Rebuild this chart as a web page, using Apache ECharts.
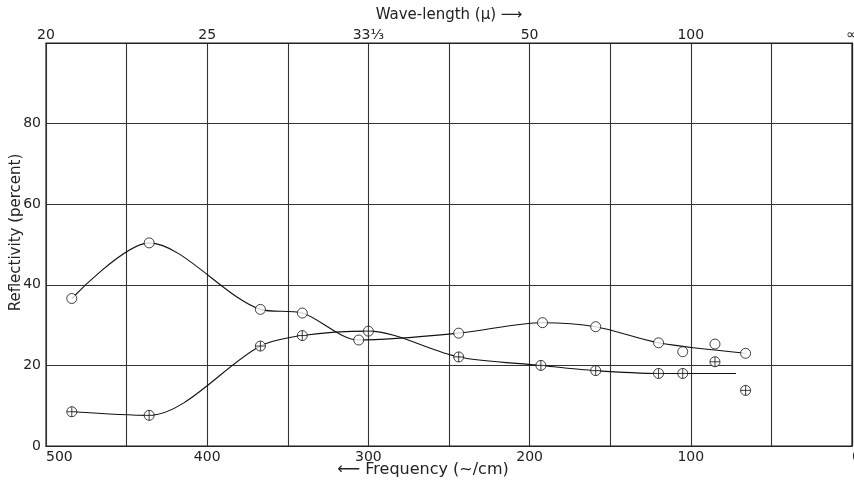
<!DOCTYPE html>
<html>
<head>
<meta charset="utf-8">
<script src="https://cdn.jsdelivr.net/npm/echarts@6/dist/echarts.min.js"></script>
<style>
html,body{margin:0;padding:0;background:#fff;}
#chart{width:854px;height:482px;}
</style>
</head>
<body>
<div id="chart"></div>
<script>
// Frequency (~/cm) and reflectivity (%)
var freqOpen  = [484, 436, 367, 341, 306, 244, 192, 159, 120, 105, 85, 66];
var reflOpen  = [36.6, 50.4, 33.9, 33.0, 26.3, 28.0, 30.6, 29.6, 25.6, 23.4, 25.3, 23.0];
var freqCross = [484, 436, 367, 341, 300, 244, 193, 159, 120, 105, 85, 66];
var reflCross = [8.5, 7.6, 24.8, 27.4, 28.5, 22.1, 20.0, 18.7, 18.0, 18.0, 20.9, 13.8];
// which points the drawn curves pass through
var openCurveIdx  = [0, 1, 2, 3, 4, 5, 6, 7, 8, 11];
var crossCurveIdx = [0, 1, 2, 3, 4, 5, 6, 7, 8, 9];
var crossCurveEnd = [72, 18.0];
// axis tick labels
var freqTicks = [500, 400, 300, 200, 100, 0];
var waveLabels = ['20', '25', '33⅓', '50', '100', '∞'];

function pairs(fx, fy, idx) { return idx.map(function (i) { return [fx[i], fy[i]]; }); }
var openPts = freqOpen.map(function (f, i) { return [f, reflOpen[i]]; });
var crossPts = freqCross.map(function (f, i) { return [f, reflCross[i]]; });
var openCurve = pairs(freqOpen, reflOpen, openCurveIdx);
var crossCurve = pairs(freqCross, reflCross, crossCurveIdx).concat([crossCurveEnd]);

var FONT = 'DejaVu Sans';
var INK = '#222';
var crossSymbol = 'path://M0,-10 A10,10 0 1,1 0,10 A10,10 0 1,1 0,-10 Z M-10,0 L10,0 M0,-10 L0,10';

var chart = echarts.init(document.getElementById('chart'), null, {renderer: 'canvas'});
chart.setOption({
  backgroundColor: '#fff',
  animation: false,
  textStyle: {fontFamily: FONT, color: INK},
  grid: {left: 46, right: 2, top: 43, bottom: 36, containLabel: false, outerBoundsMode: 'none',
         show: true, borderColor: '#222', borderWidth: 1.2},
  xAxis: [{
    type: 'value', min: 0, max: 500, interval: 50, inverse: true, position: 'bottom',
    axisLine: {show: true, lineStyle: {color: '#222', width: 1.2}},
    axisTick: {show: false},
    splitLine: {show: true, lineStyle: {color: '#333', width: 1.1}},
    axisLabel: {
      color: INK, fontSize: 14, fontFamily: FONT, margin: 4,
      alignMaxLabel: 'left', alignMinLabel: 'left',
      formatter: function (v) { return freqTicks.indexOf(v) >= 0 ? String(v) : ''; }
    },
    name: '⟵ Frequency (~/cm)', nameLocation: 'middle', nameGap: 16, nameMoveOverlap: false,
    nameTextStyle: {fontSize: 16, color: INK, fontFamily: FONT, padding: [0, 52, 0, 0]}
  }, {
    type: 'value', min: 0, max: 500, interval: 100, inverse: true, position: 'top',
    axisLine: {show: true, lineStyle: {color: '#222', width: 1.2}},
    axisTick: {show: false},
    splitLine: {show: false},
    axisLabel: {
      color: INK, fontSize: 14, fontFamily: FONT, margin: 1,
      formatter: function (v) { var i = freqTicks.indexOf(v); return i >= 0 ? waveLabels[i] : ''; }
    },
    name: 'Wave-length (μ) ⟶', nameLocation: 'middle', nameGap: 20, nameMoveOverlap: false,
    nameTextStyle: {fontSize: 15, color: INK, fontFamily: FONT}
  }],
  yAxis: {
    type: 'value', min: 0, max: 100, interval: 20,
    axisLine: {show: true, lineStyle: {color: '#222', width: 1.2}},
    axisTick: {show: false},
    splitLine: {show: true, lineStyle: {color: '#333', width: 1.1}},
    axisLabel: {
      color: INK, fontSize: 14, fontFamily: FONT, margin: 5,
      formatter: function (v) { return v === 100 ? '' : String(v); }
    },
    name: 'Reflectivity (percent)', nameLocation: 'middle', nameGap: 22, nameRotate: 90,
    nameMoveOverlap: false,
    nameTextStyle: {fontSize: 15, color: INK, fontFamily: FONT, padding: [0, 0, 0, 24]}
  },
  series: [
    {type: 'line', data: openCurve, smooth: 0.3, showSymbol: false, symbol: 'none',
     lineStyle: {color: '#111', width: 1.1}, z: 3},
    {type: 'line', data: crossCurve, smooth: 0.3, showSymbol: false, symbol: 'none',
     lineStyle: {color: '#111', width: 1.1}, z: 3},
    {type: 'scatter', data: openPts, symbol: 'circle', symbolSize: 10,
     itemStyle: {color: '#fff', borderColor: '#111', borderWidth: 1}, z: 5},
    {type: 'scatter', data: crossPts, symbol: crossSymbol, symbolSize: 10,
     itemStyle: {color: '#fff', borderColor: '#111', borderWidth: 1}, z: 5}
  ]
});
</script>
</body>
</html>
